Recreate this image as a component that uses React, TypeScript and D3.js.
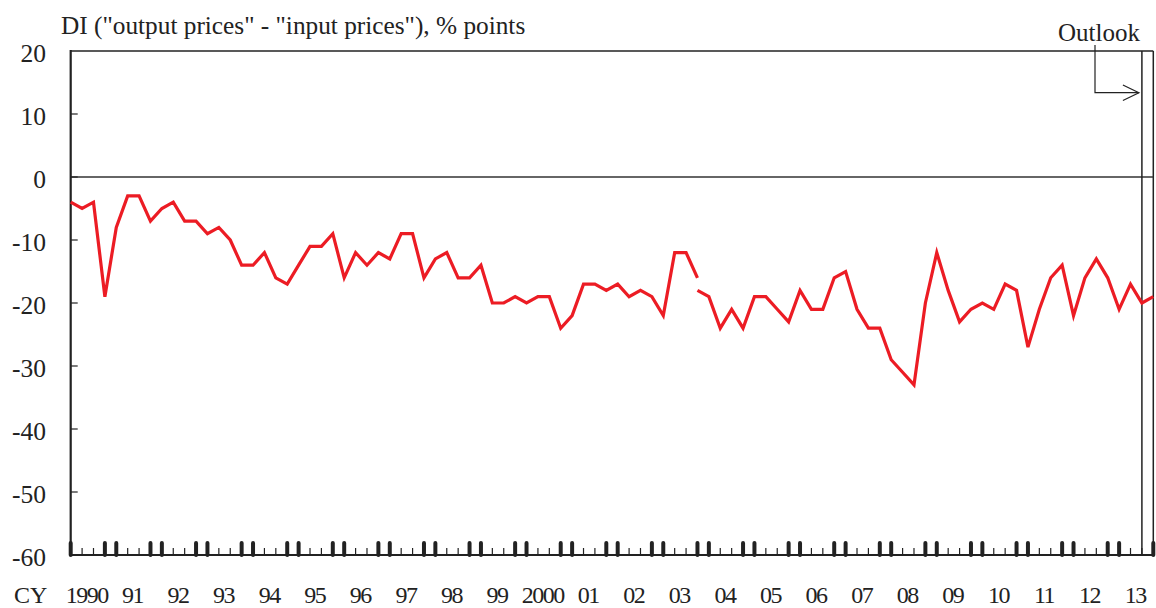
import * as d3 from "d3";

// quarterly DI, 1990Q1 .. 2013Q4 (index = quarters since 1990Q1)
const oldBasis = [
  -4, -5, -4, -19, -8, -3, -3, -7, -5, -4, -7, -7, -9, -8, -10, -14,
  -14, -12, -16, -17, -14, -11, -11, -9, -16, -12, -14, -12, -13, -9, -9, -16,
  -13, -12, -16, -16, -14, -20, -20, -19, -20, -19, -19, -24, -22, -17, -17, -18,
  -17, -19, -18, -19, -22, -12, -12, -16,
];
// new survey basis starts at 2003Q4 (index 55)
const newBasisStart = 55;
const newBasis = [
  -18, -19, -24, -21, -24, -19, -19, -21, -23, -18, -21, -21, -16, -15, -21, -24,
  -24, -29, -31, -33, -20, -12, -18, -23, -21, -20, -21, -17, -18, -27, -21, -16,
  -14, -22, -16, -13, -16, -21, -17, -20, -19,
];
const years = ["1990", "91", "92", "93", "94", "95", "96", "97", "98", "99", "2000", "01",
  "02", "03", "04", "05", "06", "07", "08", "09", "10", "11", "12", "13"];
const yTicks = [20, 10, 0, -10, -20, -30, -40, -50, -60];
const outlookIndex = 94;

const W = 1156;
const H = 608;
const FONT = "'Liberation Serif', 'Times New Roman', serif";

export default function App() {
  const nQ = years.length * 4;
  const x = d3.scaleLinear().domain([0, nQ - 1]).range([70.7, 1153.3]);
  const y = d3.scaleLinear().domain([-60, 20]).range([555, 51]);

  const line = d3
    .line<number>()
    .x((_, i) => x(i))
    .y((d) => y(d));
  const lineNew = d3
    .line<number>()
    .x((_, i) => x(i + newBasisStart))
    .y((d) => y(d));

  const [x0, x1] = x.range();
  const [yb, yt] = y.range();
  const quarters = d3.range(nQ);
  const xo = x(outlookIndex);

  return (
    <svg width={W} height={H} style={{ position: "absolute", left: 0, top: 0, background: "#fff" }}>
      <text x={61} y={34} fontFamily={FONT} fontSize={25.3} fill="#222">
        DI ("output prices" - "input prices"), % points
      </text>

      {/* frame */}
      <line x1={x0} x2={x1} y1={yt} y2={yt} stroke="#222" strokeWidth={1.5} />
      <line x1={x1} x2={x1} y1={yt} y2={yb} stroke="#222" strokeWidth={1.5} />
      <line x1={x0} x2={x1} y1={y(0)} y2={y(0)} stroke="#333" strokeWidth={1.5} />
      <line x1={xo} x2={xo} y1={yt} y2={yb} stroke="#222" strokeWidth={1.5} />

      {/* y axis */}
      {yTicks.map((t) => (
        <g key={t}>
          {t > -60 && t < 20 && (
            <line x1={x0} x2={x0 + 7} y1={y(t)} y2={y(t)} stroke="#222" strokeWidth={1.2} />
          )}
          <text x={46} y={y(t) + 11} textAnchor="end" fontFamily={FONT} fontSize={25.5} fill="#222">
            {t}
          </text>
        </g>
      ))}

      {/* x ticks: heavy at Q4/Q1, light at Q2/Q3 */}
      {quarters.map((q) => {
        const heavy = q % 4 === 0 || q % 4 === 3;
        return heavy ? (
          <line key={q} x1={x(q)} x2={x(q)} y1={543} y2={yb} stroke="#222" strokeWidth={4} strokeLinecap="round" />
        ) : (
          <line key={q} x1={x(q)} x2={x(q)} y1={548} y2={yb} stroke="#222" strokeWidth={1.2} />
        );
      })}

      <line x1={x0} x2={x0} y1={yt - 1} y2={yb + 1} stroke="#222" strokeWidth={2.2} />
      <line x1={x0 - 1} x2={x1 + 1} y1={yb} y2={yb} stroke="#222" strokeWidth={2.2} />

      <text x={14} y={603} fontFamily={FONT} fontSize={24} fill="#222">CY</text>
      {years.map((lbl, k) => (
        <text key={lbl} x={x(k * 4 + 1.5) - 1} y={603} textAnchor="middle" fontFamily={FONT} fontSize={24}
          fill="#222" letterSpacing={-1.5}>
          {lbl}
        </text>
      ))}

      {/* series */}
      <path d={line(oldBasis) ?? ""} fill="none" stroke="#ec1c24" strokeWidth={3.2} strokeLinejoin="miter" />
      <path d={lineNew(newBasis) ?? ""} fill="none" stroke="#ec1c24" strokeWidth={3.2} strokeLinejoin="miter" />

      {/* outlook annotation */}
      <text x={1058} y={41} fontFamily={FONT} fontSize={25} fill="#222">Outlook</text>
      <path d={`M1095,45 V92.7 H${xo - 3}`} fill="none" stroke="#222" strokeWidth={1.2} />
      <path d={`M${xo - 19},85 L${xo - 3},92.7 L${xo - 19},100.5`}
        fill="none" stroke="#222" strokeWidth={1.2} />
    </svg>
  );
}
